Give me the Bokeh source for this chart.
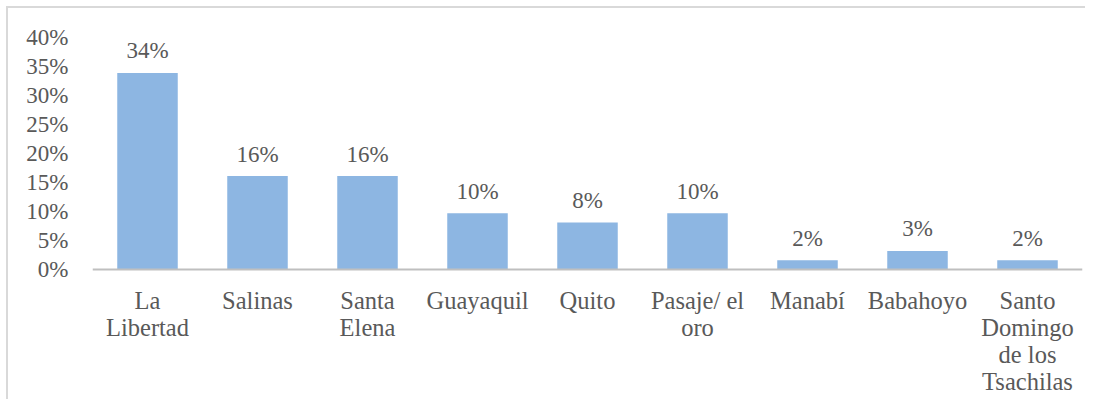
from bokeh.plotting import figure
from bokeh.models import ColumnDataSource, FixedTicker, CustomJSTickFormatter, Span
from bokeh.core.properties import value
from bokeh.embed import file_html
from bokeh.resources import INLINE

categories = ["La Libertad", "Salinas", "Santa Elena", "Guayaquil", "Quito",
              "Pasaje/ el oro", "Manabí", "Babahoyo", "Santo Domingo de los Tsachilas"]
tick_labels = ["La\nLibertad", "Salinas", "Santa\nElena", "Guayaquil", "Quito",
               "Pasaje/ el\noro", "Manabí", "Babahoyo", "Santo\nDomingo\nde los\nTsachilas"]
values = [33.9, 16.1, 16.1, 9.7, 8.1, 9.7, 1.6, 3.2, 1.6]
value_labels = ["34%", "16%", "16%", "10%", "8%", "10%", "2%", "3%", "2%"]
y_ticks = [0, 5, 10, 15, 20, 25, 30, 35, 40]

FONT = "Liberation Serif"
TXT = "#595959"
FS = "23px"
FS_CAT = "24.5px"

# layout: frame height in px, 0..40% spans 232 px; extra frame room below 0 for category labels
FRAME_H = 364
PX_PER_UNIT = 232 / 40
y_start = 40 - FRAME_H / PX_PER_UNIT

src = ColumnDataSource(dict(cat=categories, val=values, lab=value_labels))

p = figure(x_range=categories, y_range=(y_start, 40), width=1079, height=29 + FRAME_H,
           output_backend="svg", toolbar_location=None,
           min_border_left=84, min_border_right=5, min_border_top=29,
           min_border_bottom=0)
p.styles = {"margin-left": "6px", "margin-top": "6px",
            "border-left": "2px solid #d9d9d9", "border-top": "2px solid #d9d9d9"}

p.vbar(x="cat", top="val", width=0.55, source=src, color="#8DB6E2", line_color=None)
p.add_layout(Span(location=0, dimension="width", line_color="#BFBFBF", line_width=2))
p.text(x="cat", y="val", text="lab", source=src, text_align="center",
       text_baseline="alphabetic", y_offset=-22, text_color=TXT,
       text_font=value(FONT), text_font_size=FS)

# category labels, one text call per line of the wrapped labels
split = [t.split("\n") for t in tick_labels]
max_lines = max(len(s) for s in split)
for i in range(max_lines):
    cats = [c for c, s in zip(categories, split) if len(s) > i]
    lines = [s[i] for s in split if len(s) > i]
    p.text(x=cats, y=[0] * len(cats), text=lines, text_align="center",
           text_baseline="alphabetic", y_offset=31 + 27 * i, text_color=TXT,
           text_font=value(FONT), text_font_size=FS_CAT)

p.outline_line_color = None
p.xgrid.grid_line_color = None
p.ygrid.grid_line_color = None
p.xaxis.visible = False

p.yaxis.ticker = FixedTicker(ticks=y_ticks)
p.yaxis.formatter = CustomJSTickFormatter(code="return tick.toFixed(0) + '%';")
p.yaxis.axis_line_color = None
p.yaxis.major_tick_line_color = None
p.yaxis.minor_tick_line_color = None
p.yaxis.major_label_standoff = 18
p.yaxis.major_label_text_font = FONT
p.yaxis.major_label_text_font_size = FS
p.yaxis.major_label_text_color = TXT

open("out.html", "w").write(file_html(p, INLINE))
